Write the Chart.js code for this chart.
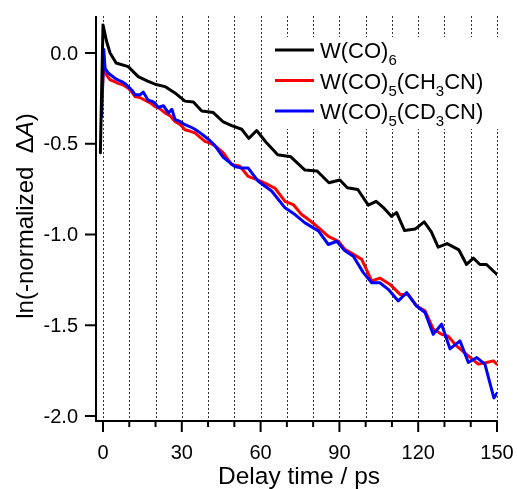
<!DOCTYPE html>
<html>
<head>
<meta charset="utf-8">
<script src="https://cdn.jsdelivr.net/npm/chart.js@4"></script>
<style>
  html, body { margin: 0; padding: 0; background: #fff; }
  #wrap { width: 517px; height: 489px; }
</style>
</head>
<body>
<div id="wrap"><canvas id="chart" width="517" height="489"></canvas></div>
<script>
// --- DATA ---
const blackT = [-1, 0, 1.4, 2.7, 5, 9.6, 13.4, 17, 19.8, 23.6, 27.4, 31.2, 34.4, 37.6, 42, 45.8, 49, 52.8, 55.5, 58.5, 62, 66.5, 71.5, 76.9, 81.5, 86, 90.2, 93, 97, 101, 104, 107, 109.8, 111.8, 114.8, 118.8, 122.3, 125, 127.6, 131, 135.5, 138.4, 141, 143.5, 146, 150];
const blackY = [-0.55, 0.155, 0.062, 0.0, -0.055, -0.075, -0.13, -0.155, -0.172, -0.185, -0.22, -0.265, -0.27, -0.32, -0.328, -0.38, -0.4, -0.42, -0.47, -0.427, -0.49, -0.56, -0.572, -0.645, -0.65, -0.715, -0.70, -0.742, -0.752, -0.838, -0.817, -0.855, -0.9, -0.879, -0.978, -0.97, -0.93, -0.985, -1.07, -1.05, -1.085, -1.165, -1.13, -1.165, -1.165, -1.22];

const redT = [-0.6, 0.3, 0.8, 1.5, 2.7, 4, 5.8, 7.5, 9.6, 11, 12.2, 14, 16, 18, 19.8, 21.5, 23.6, 25.5, 27.4, 29.5, 31.2, 33, 35, 37, 38.8, 40.5, 42.6, 45.8, 49, 52, 55.3, 59.1, 62, 65.5, 69.3, 72.4, 75.6, 78, 80.7, 83, 85.8, 89.6, 92.1, 95.5, 98.5, 102.3, 105.4, 109.3, 113.1, 116.2, 119.4, 122.6, 125.7, 128.9, 131.4, 134.6, 138.4, 142.9, 146, 148.6, 150];
const redY = [-0.3, -0.05, -0.1, -0.125, -0.148, -0.155, -0.167, -0.175, -0.194, -0.215, -0.24, -0.245, -0.26, -0.275, -0.295, -0.305, -0.33, -0.345, -0.377, -0.395, -0.423, -0.43, -0.44, -0.465, -0.487, -0.495, -0.51, -0.55, -0.615, -0.622, -0.68, -0.70, -0.72, -0.745, -0.817, -0.835, -0.89, -0.915, -0.945, -0.975, -1.01, -1.037, -1.082, -1.11, -1.137, -1.256, -1.24, -1.275, -1.33, -1.33, -1.394, -1.42, -1.52, -1.55, -1.56, -1.614, -1.66, -1.714, -1.705, -1.696, -1.714];

const blueT = [-0.5, 0.3, 0.8, 2, 3.3, 4.6, 6, 7.1, 8.5, 9.6, 11, 12.2, 14.1, 15.3, 17.2, 18.5, 19.8, 21, 23, 24.9, 26.2, 27.4, 29, 31.2, 33, 35, 37, 38.8, 40.5, 42.6, 45.8, 50.2, 52.8, 55.3, 59.1, 64.2, 69.3, 73.1, 76.9, 82, 85.8, 89, 92.1, 95.3, 99.1, 102.3, 105.4, 108.6, 112.4, 115.6, 119.4, 122.6, 125.7, 128.9, 132.1, 135.9, 139.1, 142.3, 145.4, 148.8, 150];
const blueY = [-0.35, 0.02, -0.084, -0.11, -0.125, -0.14, -0.15, -0.157, -0.17, -0.185, -0.205, -0.23, -0.23, -0.215, -0.26, -0.265, -0.276, -0.30, -0.29, -0.33, -0.31, -0.365, -0.375, -0.395, -0.405, -0.42, -0.44, -0.46, -0.48, -0.51, -0.575, -0.625, -0.634, -0.634, -0.707, -0.76, -0.853, -0.89, -0.936, -0.98, -1.055, -1.037, -1.09, -1.12, -1.21, -1.266, -1.266, -1.302, -1.366, -1.32, -1.394, -1.43, -1.55, -1.494, -1.63, -1.586, -1.705, -1.678, -1.714, -1.9, -1.875];

const xTicks = [0, 10, 20, 30, 40, 50, 60, 70, 80, 90, 100, 110, 120, 130, 140, 150];
const xTickLabels = ['0', '', '', '30', '', '', '60', '', '', '90', '', '', '120', '', '', '150'];
const yTicks = [0.0, -0.5, -1.0, -1.5, -2.0];
const yTickLabels = ['0.0', '-0.5', '-1.0', '-1.5', '-2.0'];

// legend entries: [text, isSubscript] pieces
const legendEntries = [
    { color: '#000000', parts: [['W(CO)', 0], ['6', 1]] },
    { color: '#ff0000', parts: [['W(CO)', 0], ['5', 1], ['(CH', 0], ['3', 1], ['CN)', 0]] },
    { color: '#0000ff', parts: [['W(CO)', 0], ['5', 1], ['(CD', 0], ['3', 1], ['CN)', 0]] }
];

const FONT = '"Liberation Sans", Arial, sans-serif';

function pts(t, y) { return t.map((v, i) => ({ x: v, y: y[i] })); }

// --- DESENHO DOS EIXOS, GRADE E LEGENDA ---
const decor = {
    id: 'decor',
    beforeDatasetsDraw(chart) {
        const { ctx, chartArea: a, scales: { x } } = chart;
        ctx.save();
        ctx.strokeStyle = '#333';
        ctx.lineWidth = 1;
        ctx.setLineDash([2, 2]);
        xTicks.forEach(v => {
            const px = Math.round(x.getPixelForValue(v)) + 0.5;
            ctx.beginPath();
            ctx.moveTo(px, a.top);
            ctx.lineTo(px, a.bottom);
            ctx.stroke();
        });
        ctx.restore();
    },
    afterDatasetsDraw(chart) {
        const { ctx, chartArea: a, scales: { x, y } } = chart;
        ctx.save();

        // axes
        ctx.strokeStyle = '#000';
        ctx.lineWidth = 2;
        ctx.beginPath();
        ctx.moveTo(a.left, a.top);
        ctx.lineTo(a.left, a.bottom);
        ctx.lineTo(a.right, a.bottom);
        ctx.stroke();

        // x ticks + labels
        ctx.fillStyle = '#000';
        ctx.font = '20px ' + FONT;
        ctx.textAlign = 'center';
        ctx.textBaseline = 'alphabetic';
        xTicks.forEach((v, i) => {
            const px = x.getPixelForValue(v);
            const len = xTickLabels[i] ? 11 : 6;
            ctx.beginPath();
            ctx.moveTo(px, a.bottom);
            ctx.lineTo(px, a.bottom + len);
            ctx.stroke();
            if (xTickLabels[i]) ctx.fillText(xTickLabels[i], px, a.bottom + 38);
        });

        // y ticks + labels
        ctx.textAlign = 'right';
        ctx.textBaseline = 'middle';
        yTicks.forEach((v, i) => {
            const py = y.getPixelForValue(v);
            ctx.beginPath();
            ctx.moveTo(a.left - 11, py);
            ctx.lineTo(a.left, py);
            ctx.stroke();
            ctx.fillText(yTickLabels[i], a.left - 18, py + 1);
        });

        // x title
        ctx.font = '24.5px ' + FONT;
        ctx.textAlign = 'center';
        ctx.textBaseline = 'alphabetic';
        ctx.fillText('Delay time / ps', 299, 484);

        // y title (rotated, A em itálico)
        const segs = [['ln(-normalized  \u0394', '24px ' + FONT], ['A', 'italic 24px ' + FONT], [')', '24px ' + FONT]];
        let total = 0;
        segs.forEach(s => { ctx.font = s[1]; total += ctx.measureText(s[0]).width; });
        ctx.translate(33, 216);
        ctx.rotate(-Math.PI / 2);
        ctx.textAlign = 'left';
        let cx = -total / 2;
        segs.forEach(s => { ctx.font = s[1]; ctx.fillText(s[0], cx, 0); cx += ctx.measureText(s[0]).width; });
        ctx.setTransform(1, 0, 0, 1, 0, 0);

        // legend
        ctx.fillStyle = '#fff';
        ctx.fillRect(266, 37, 234, 92);
        legendEntries.forEach((e, i) => {
            const ly = 50 + i * 30.5;
            ctx.strokeStyle = e.color;
            ctx.lineWidth = 3;
            ctx.beginPath();
            ctx.moveTo(275, ly);
            ctx.lineTo(314, ly);
            ctx.stroke();
            ctx.fillStyle = '#000';
            let tx = 320;
            e.parts.forEach(p => {
                ctx.font = (p[1] ? '15px ' : '22px ') + FONT;
                ctx.fillText(p[0], tx, ly + 8 + (p[1] ? 7 : 0));
                tx += ctx.measureText(p[0]).width;
            });
        });
        ctx.restore();
    }
};

// order: menor valor fica por cima (preto por cima, azul sobre vermelho)
const ds = (label, data, color, order) => ({
    label, data, order, borderColor: color, backgroundColor: color,
    borderWidth: 3, pointRadius: 0, tension: 0,
    borderJoinStyle: 'round', borderCapStyle: 'round', fill: false
});

new Chart(document.getElementById('chart'), {
    type: 'line',
    data: {
        datasets: [
            ds('W(CO)6', pts(blackT, blackY), '#000000', 0),
            ds('W(CO)5(CH3CN)', pts(redT, redY), '#ff0000', 2),
            ds('W(CO)5(CD3CN)', pts(blueT, blueY), '#0000ff', 1)
        ]
    },
    options: {
        responsive: false,
        animation: false,
        devicePixelRatio: 1,
        layout: { padding: { left: 96, top: 16, right: 20, bottom: 68 } },
        scales: {
            x: { type: 'linear', min: -2.665, max: 150, display: false },
            y: { type: 'linear', min: -2.0275, max: 0.204, display: false }
        },
        plugins: { legend: { display: false }, tooltip: { enabled: false } }
    },
    plugins: [decor]
});
</script>
</body>
</html>
